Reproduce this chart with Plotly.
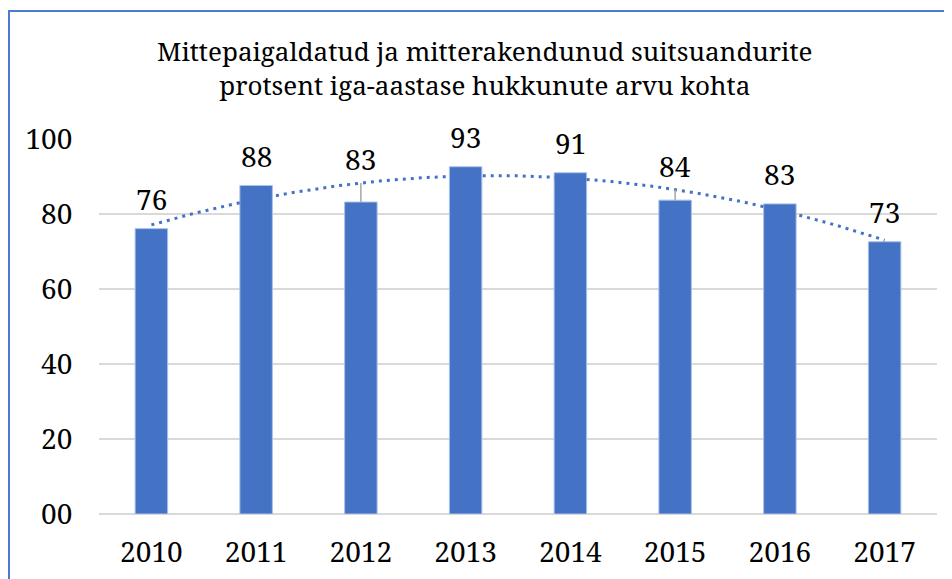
import numpy as np
import plotly.graph_objects as go

# ---- data ----
years = ["2010", "2011", "2012", "2013", "2014", "2015", "2016", "2017"]
percent = [76.1, 87.6, 83.2, 92.6, 91.0, 83.7, 82.7, 72.6]
y_tick_vals = [0, 20, 40, 60, 80, 100]
y_tick_text = ["00", "20", "40", "60", "80", "100"]
title_lines = ["Mittepaigaldatud ja mitterakendunud suitsuandurite",
               "protsent iga-aastase hukkunute arvu kohta"]

# ---- styling ----
FONT = "Noto Serif"
BAR = "#4472C4"
OFF = 8  # page body margin
W, H = 952 - OFF, 579 - OFF
ML, MR, MT, MB = 99 - OFF, 15, 139 - OFF, 65
pw, ph = W - ML - MR, H - MT - MB

xi = np.arange(len(years))
coef = np.polyfit(xi, percent, 2)       # Excel-style 2nd order polynomial trendline
trend = np.poly1d(coef)
xs = np.linspace(0, len(years) - 1, 200)

fig = go.Figure()
fig.add_trace(go.Bar(
    x=xi, y=percent, width=0.31,
    marker=dict(color=BAR, line=dict(color="#A9C0E8", width=1)),
    hoverinfo="x+y", showlegend=False,
))
fig.add_trace(go.Scatter(
    x=xs, y=trend(xs), mode="lines",
    line=dict(color=BAR, width=3, dash="3px,5px"),
    hoverinfo="skip", showlegend=False,
))

annotations = []
shapes = []
for i, v in enumerate(percent):
    t = float(trend(i))
    if t - v > 2:
        shapes.append(dict(type="line", xref="x", yref="y", x0=i, x1=i, y0=v, y1=t,
                           line=dict(color="#A6A6A6", width=1.5), layer="above"))
        anchor, shift = t, 24
    else:
        anchor, shift = v, 30
    annotations.append(dict(x=i, y=anchor, xref="x", yref="y", text=f"{v:.0f}",
                            showarrow=False, yshift=shift, yanchor="middle",
                            font=dict(family=FONT, size=28, color="black")))

# title
annotations.append(dict(
    x=(485 - OFF - ML) / pw, y=(H - MB - (68 - OFF)) / ph, xref="paper", yref="paper",
    text="<br>".join(title_lines), showarrow=False, xanchor="center", yanchor="middle",
    font=dict(family=FONT, size=26, color="black"),
))

# chart border (blue frame)
bx0 = (1 - ML) / pw
by1 = (H - MB - (11 - OFF)) / ph
shapes.append(dict(type="rect", xref="paper", yref="paper",
                   x0=bx0, x1=1.1, y0=-0.3, y1=by1,
                   line=dict(color="#4A7BD0", width=2), layer="below"))

fig.update_layout(
    width=W, height=H,
    margin=dict(l=ML, r=MR, t=MT, b=MB, autoexpand=False),
    paper_bgcolor="white", plot_bgcolor="white",
    font=dict(family=FONT, size=28, color="black"),
    annotations=annotations, shapes=shapes,
    xaxis=dict(range=[-0.5, len(years) - 0.5], tickvals=list(xi), ticktext=years,
               showgrid=False, zeroline=False, showline=False, automargin=False,
               ticks="outside", ticklen=13, tickcolor="rgba(0,0,0,0)",
               tickfont=dict(family=FONT, size=28, color="black"), fixedrange=True),
    yaxis=dict(range=[0, 100], tickvals=y_tick_vals, ticktext=y_tick_text,
               showgrid=True, gridcolor="#D9D9D9", gridwidth=1.5, automargin=False,
               zeroline=True, zerolinecolor="#D9D9D9", zerolinewidth=1.5,
               showline=False, ticks="outside", ticklen=20, tickcolor="rgba(0,0,0,0)",
               tickfont=dict(family=FONT, size=28, color="black"), fixedrange=True),
)

fig.write_html("out.html")
